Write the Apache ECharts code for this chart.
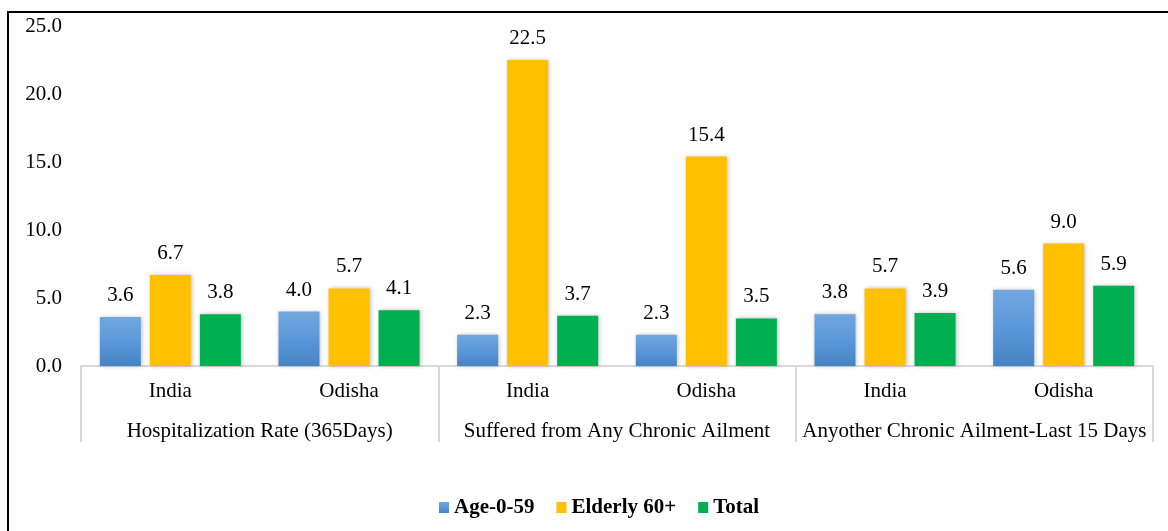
<!DOCTYPE html>
<html style="height: 100%">

<head>
	<meta charset="utf-8">
</head>

<body style="height: 100%; margin: 0; background: #fff">
	<div id="container" style="width: 1168px; height: 531px"></div>
	<script type="text/javascript" src="https://cdn.jsdelivr.net/npm/echarts@6/dist/echarts.min.js"></script>
	<script type="text/javascript">
		let places = ['India', 'Odisha', 'India', 'Odisha', 'India', 'Odisha'];
		let groups = ['Hospitalization Rate (365Days)', 'Suffered from Any Chronic Ailment', 'Anyother Chronic Ailment-Last 15 Days'];
		let age059 = [3.6, 4.0, 2.3, 2.3, 3.8, 5.6];
		let elderly = [6.7, 5.7, 22.5, 15.4, 5.7, 9.0];
		let total = [3.8, 4.1, 3.7, 3.5, 3.9, 5.9];
		let seriesNames = ['Age-0-59', 'Elderly 60+', 'Total'];

		let dom = document.getElementById("container");
		let myChart = echarts.init(dom);
		let serif = '"Liberation Serif", "Times New Roman", serif';
		let gridLine = '#d9d9d9';
		let fs = 21;

		function bar(name, data, color) {
			return {
				name: name,
				type: 'bar',
				data: data,
				barWidth: 41,
				barGap: '22%',
				itemStyle: {
					color: color,
					shadowBlur: 4,
					shadowColor: 'rgba(0,0,0,0.25)',
					shadowOffsetX: 1
				},
				label: {
					show: true,
					position: 'top',
					distance: 11,
					color: '#000',
					fontFamily: serif,
					fontSize: fs,
					formatter: function (p) { return p.value.toFixed(1); }
				}
			};
		}

		let option = {
			animation: false,
			graphic: [{
				type: 'rect',
				shape: { x: 8, y: 12, width: 1200, height: 600 },
				style: { fill: 'none', stroke: '#000', lineWidth: 2 },
				silent: true
			}],
			legend: {
				data: seriesNames,
				left: 434,
				top: 492,
				icon: 'rect',
				itemWidth: 10,
				itemHeight: 11,
				itemGap: 22,
				textStyle: { fontFamily: serif, fontSize: fs, fontWeight: 'bold', color: '#000' }
			},
			grid: { left: 81, right: 15, top: 26, bottom: 165, containLabel: false },
			xAxis: [
				{
					type: 'category',
					data: places,
					axisLine: { lineStyle: { color: gridLine, width: 2 } },
					axisTick: { show: false },
					axisLabel: { margin: 15, color: '#000', fontFamily: serif, fontSize: fs }
				},
				{
					type: 'category',
					data: groups,
					position: 'bottom',
					axisLine: { show: false },
					axisTick: { show: true, interval: 0, length: 76, lineStyle: { color: gridLine, width: 2 } },
					axisLabel: { margin: 55, interval: 0, color: '#000', fontFamily: serif, fontSize: fs }
				}
			],
			yAxis: {
				type: 'value',
				min: 0,
				max: 25,
				interval: 5,
				splitLine: { show: false },
				axisLine: { show: false },
				axisTick: { show: false },
				axisLabel: {
					margin: 19,
					color: '#000',
					fontFamily: serif,
					fontSize: fs,
					formatter: function (v) { return v.toFixed(1); }
				}
			},
			series: [
				bar(seriesNames[0], age059, new echarts.graphic.LinearGradient(0, 0, 0, 1, [
					{ offset: 0, color: '#72a7de' },
					{ offset: 0.5, color: '#5b98db' },
					{ offset: 1, color: '#4683c4' }
				])),
				bar(seriesNames[1], elderly, '#ffc000'),
				bar(seriesNames[2], total, '#00b050')
			]
		};

		myChart.setOption(option);
	</script>
</body>
</html>
